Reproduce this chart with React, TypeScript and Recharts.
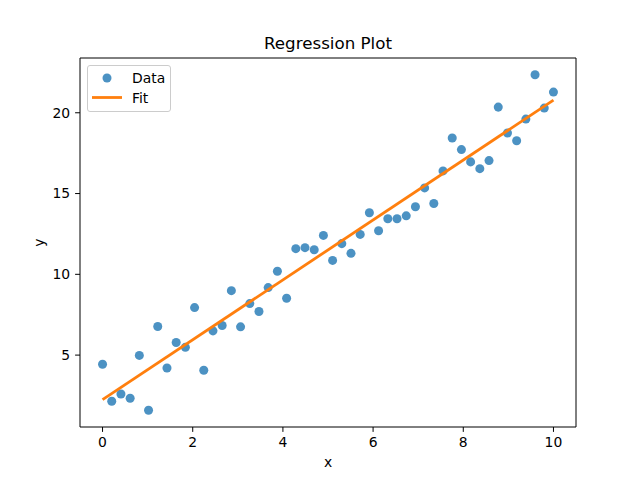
import {
    ComposedChart,
    Scatter,
    XAxis,
    YAxis,
    ReferenceLine,
    Legend,
} from "recharts";

// ────────────────────────────────────────────────────────────────────────────────
// Data
// ────────────────────────────────────────────────────────────────────────────────

const X_VALUES = [
    0, 0.204, 0.408, 0.612, 0.816, 1.02, 1.224, 1.429, 1.633, 1.837,
    2.041, 2.245, 2.449, 2.653, 2.857, 3.061, 3.265, 3.469, 3.673, 3.878,
    4.082, 4.286, 4.49, 4.694, 4.898, 5.102, 5.306, 5.51, 5.714, 5.918,
    6.122, 6.327, 6.531, 6.735, 6.939, 7.143, 7.347, 7.551, 7.755, 7.959,
    8.163, 8.367, 8.571, 8.776, 8.98, 9.184, 9.388, 9.592, 9.796, 10,
];

const Y_VALUES = [
    4.43, 2.14, 2.59, 2.33, 4.98, 1.59, 6.77, 4.2, 5.78, 5.48,
    7.94, 4.06, 6.5, 6.83, 8.99, 6.75, 8.19, 7.7, 9.18, 10.19,
    8.52, 11.59, 11.65, 11.52, 12.41, 10.86, 11.9, 11.3, 12.47, 13.81,
    12.7, 13.44, 13.44, 13.62, 14.18, 15.35, 14.38, 16.4, 18.44, 17.72,
    16.96, 16.54, 17.04, 20.35, 18.75, 18.27, 19.61, 22.35, 20.29, 21.28,
];

const FIT_X = [0, 10];
const FIT_Y = [2.24, 20.78];

const X_TICKS = [0, 2, 4, 6, 8, 10];
const Y_TICKS = [5, 10, 15, 20];

const X_DOMAIN = [-0.5, 10.5];
const Y_DOMAIN = [0.55, 23.39];

const FONT = "'DejaVu Sans', sans-serif";
const BLUE = "#1f77b4";
const ORANGE = "#ff7f0e";

const scatterData = X_VALUES.map((x, i) => ({ x, y: Y_VALUES[i] }));
const fitData = FIT_X.map((x, i) => ({ x, y: FIT_Y[i] }));

// matplotlib-like legend box
function LegendBox() {
    return (
        <svg width={84} height={47} style={{ display: "block" }}>
            <rect
                x={0.5}
                y={0.5}
                width={83}
                height={46}
                rx={2.5}
                fill="#fff"
                fillOpacity={0.8}
                stroke="#cccccc"
            />
            <circle cx={20} cy={13} r={4.5} fill={BLUE} fillOpacity={0.8} />
            <text x={45} y={13} dy="0.36em" fontSize={13.9} fontFamily={FONT} fill="#000">
                Data
            </text>
            <line x1={5} x2={35} y1={32.5} y2={32.5} stroke={ORANGE} strokeWidth={2.8} />
            <text x={45} y={32.5} dy="0.36em" fontSize={13.9} fontFamily={FONT} fill="#000">
                Fit
            </text>
        </svg>
    );
}

// axis titles, placed like matplotlib's xlabel / ylabel
function XTitle({ viewBox }: any) {
    const cx = viewBox.x + viewBox.width / 2;
    return (
        <text x={cx} y={466.5} textAnchor="middle" fontSize={13.9} fontFamily={FONT} fill="#000">
            x
        </text>
    );
}

function YTitle({ viewBox }: any) {
    const cy = viewBox.y + viewBox.height / 2;
    return (
        <text
            x={44}
            y={cy}
            textAnchor="middle"
            transform={`rotate(-90 44 ${cy})`}
            fontSize={13.9}
            fontFamily={FONT}
            fill="#000"
        >
            y
        </text>
    );
}

const tickStyle = { fill: "#000", fontSize: 13.9, fontFamily: FONT };

export default function App() {
    return (
        <div style={{ position: "fixed", left: 0, top: 0, width: 640, height: 480, background: "#fff" }}>
            <svg
                width={640}
                height={60}
                style={{ position: "absolute", left: 0, top: 0, pointerEvents: "none" }}
            >
                <text x={328} y={49.3} textAnchor="middle" fontSize={16.7} fontFamily={FONT} fill="#000">
                    Regression Plot
                </text>
            </svg>
            <ComposedChart
                width={640}
                height={480}
                margin={{ top: 58, right: 64, bottom: 0, left: 0 }}
            >
                <XAxis
                    dataKey="x"
                    type="number"
                    domain={X_DOMAIN}
                    ticks={X_TICKS}
                    height={53}
                    allowDataOverflow
                    stroke="#000"
                    tickSize={4.9}
                    tickMargin={5}
                    tick={tickStyle}
                    label={{ content: XTitle }}
                />
                <YAxis
                    dataKey="y"
                    type="number"
                    domain={Y_DOMAIN}
                    ticks={Y_TICKS}
                    width={80}
                    allowDataOverflow
                    stroke="#000"
                    tickSize={4.9}
                    tickMargin={5}
                    tick={tickStyle}
                    label={{ content: YTitle }}
                />
                {/* top and right spines */}
                <ReferenceLine y={Y_DOMAIN[1]} stroke="#000" strokeWidth={1} />
                <ReferenceLine x={X_DOMAIN[1]} stroke="#000" strokeWidth={1} />
                <Scatter
                    name="Data"
                    data={scatterData}
                    fill={BLUE}
                    fillOpacity={0.8}
                    isAnimationActive={false}
                />
                <Scatter
                    name="Fit"
                    data={fitData}
                    line={{ stroke: ORANGE, strokeWidth: 2.8 }}
                    shape={() => <g />}
                    isAnimationActive={false}
                />
                <Legend
                    layout="vertical"
                    verticalAlign="middle"
                    align="center"
                    content={() => <LegendBox />}
                    wrapperStyle={{ left: 87, top: 65, width: 84, height: 47 }}
                />
            </ComposedChart>
        </div>
    );
}
